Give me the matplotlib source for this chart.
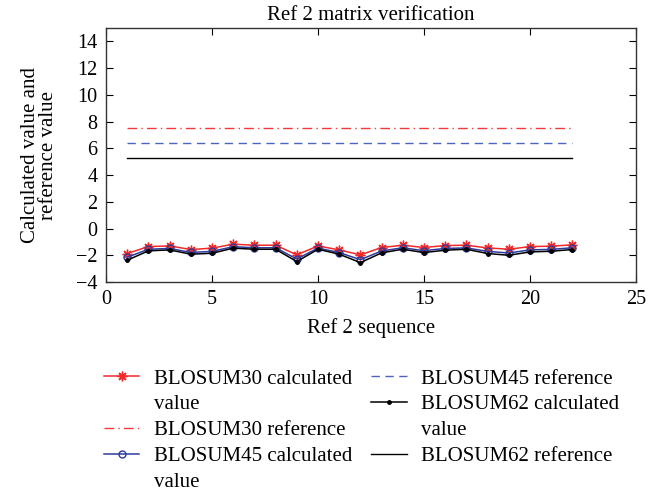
import numpy as np
import matplotlib.pyplot as plt
from matplotlib.lines import Line2D

plt.rcParams['font.family'] = ['Liberation Serif', 'DejaVu Serif']

seq = list(range(1, 23))
b30_calc = [-1.87, -1.35, -1.30, -1.57, -1.47, -1.17, -1.25, -1.25, -1.97, -1.30, -1.60, -1.97,
            -1.42, -1.25, -1.42, -1.27, -1.25, -1.45, -1.55, -1.35, -1.32, -1.22]
b45_calc = [-2.15, -1.55, -1.49, -1.79, -1.71, -1.36, -1.44, -1.44, -2.28, -1.46, -1.80, -2.33,
            -1.68, -1.44, -1.66, -1.49, -1.45, -1.71, -1.83, -1.60, -1.56, -1.44]
b62_calc = [-2.37, -1.67, -1.60, -1.92, -1.85, -1.47, -1.55, -1.55, -2.47, -1.55, -1.92, -2.55,
            -1.82, -1.55, -1.80, -1.62, -1.55, -1.87, -2.00, -1.75, -1.70, -1.57]
b30_ref = 7.5
b45_ref = 6.4
b62_ref = 5.3

fig = plt.figure(figsize=(6.66, 4.96), dpi=100)
ax = fig.add_axes([106/666, 1 - 282/496, (636-106)/666, (282-28)/496])

red = '#f22a2a'
h1, = ax.plot(seq, b30_calc, color=red, marker=(8, 2, 0), markersize=7, mew=1.0, lw=1.1)
h2, = ax.plot(seq, [b30_ref]*len(seq), color='#f23a3a', ls=(0, (7, 3, 1, 3)), lw=1.0)
h3, = ax.plot(seq, b45_calc, color='#2c3c9c', marker='o', markersize=5, mfc='none', lw=1.1)
h4, = ax.plot(seq, [b45_ref]*len(seq), color='#4a66c0', ls=(0, (6, 4)), lw=1.0)
h5, = ax.plot(seq, b62_calc, color='black', marker='.', markersize=5, lw=1.1)
h6, = ax.plot(seq, [b62_ref]*len(seq), color='black', ls='-', lw=1.0)

ax.set_xlim(0, 25)
ax.set_ylim(-4, 15)
ax.set_xticks(range(0, 26, 5))
ax.set_yticks(range(-4, 15, 2))
ax.set_yticklabels([str(v).replace('-', '\u2212') for v in range(-4, 15, 2)])
ax.tick_params(direction='in', top=True, right=True, labelsize=14.5, length=5, pad=6)
for s in ax.spines.values():
    s.set_linewidth(1.0)
    s.set_color('#333333')

ax.set_title('Ref 2 matrix verification', fontsize=15, pad=6)
ax.set_xlabel('Ref 2 sequence', fontsize=15, labelpad=6)
ax.set_ylabel('Calculated value and\nreference value', fontsize=15, labelpad=13, linespacing=0.95)

blank = Line2D([], [], lw=0, marker=None)
handles = [h1, blank, h2, h3, blank, h4, h5, blank, h6, blank]
labels = ['BLOSUM30 calculated', 'value', 'BLOSUM30 reference', 'BLOSUM45 calculated', 'value',
          'BLOSUM45 reference', 'BLOSUM62 calculated', 'value', 'BLOSUM62 reference', '']
fig.legend(handles, labels, loc='upper left', bbox_to_anchor=(104/666, 1 - 369/496), ncol=2,
           frameon=False, fontsize=15, handlelength=1.7, columnspacing=0.9,
           labelspacing=0.3, handletextpad=0.7, borderpad=0, borderaxespad=0)

fig.savefig('out.png', dpi=100)
